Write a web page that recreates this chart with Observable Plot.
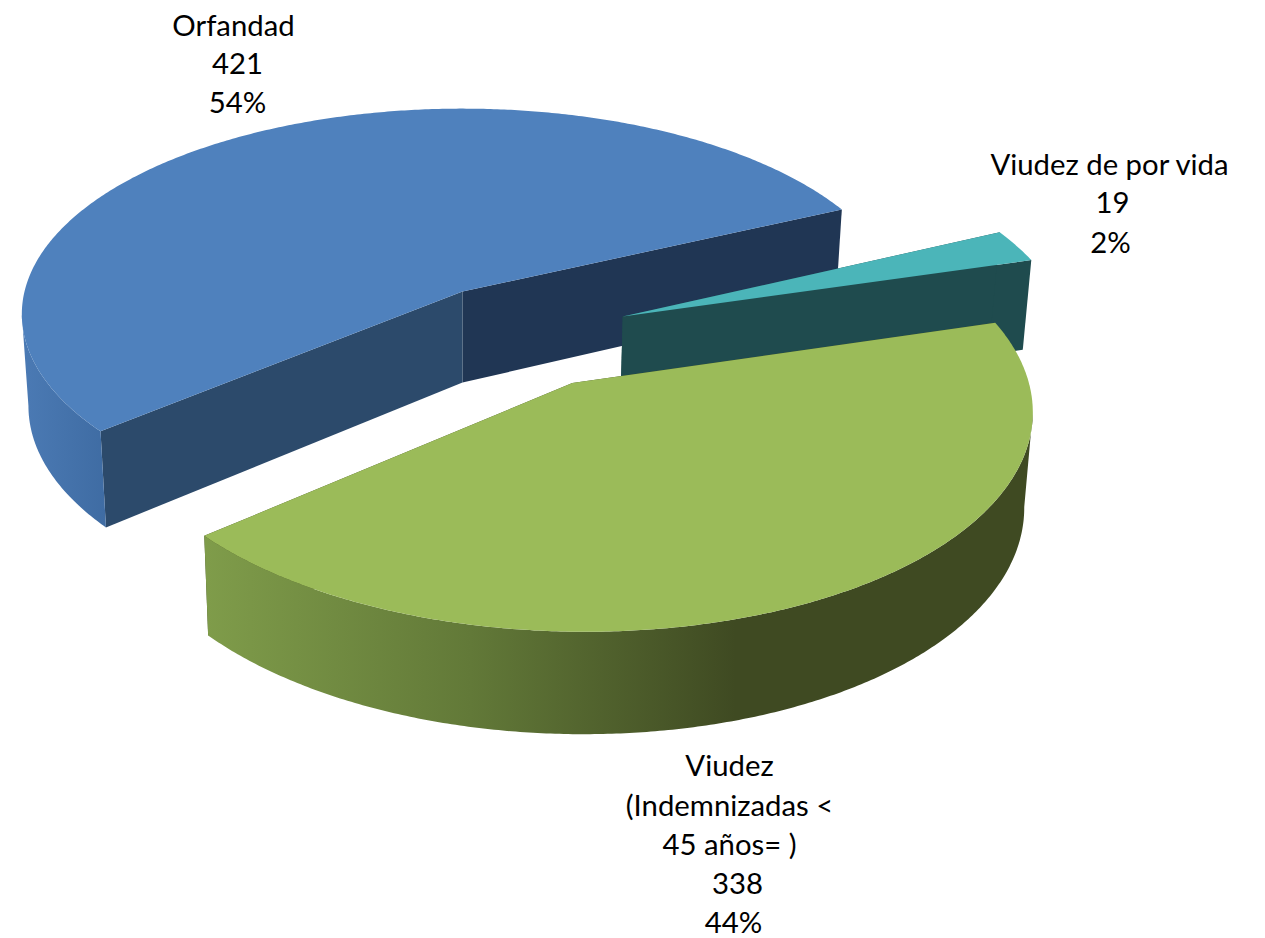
<!DOCTYPE html>
<html><head><meta charset="utf-8">
<style>html,body{margin:0;padding:0;background:#fff}svg{display:block}</style>
<script src="https://cdn.jsdelivr.net/npm/d3@7"></script>
<script src="https://cdn.jsdelivr.net/npm/@observablehq/plot@0.6"></script>
</head><body><div id="chart"></div>
<script>
// Data (in the pie's angular order)
const categories = ["Orfandad", "Viudez (Indemnizadas < 45 años= )", "Viudez de por vida"];
const values = [421, 338, 19];
const percents = ["54%", "44%", "2%"];
const labelLines = [
  [categories[0], String(values[0]), percents[0]],
  ["Viudez", "(Indemnizadas <", "45 años= )", String(values[1]), percents[1]],
  [categories[2], String(values[2]), percents[2]]
];

// View of the pie: perspective disc per slice, explosion offsets, styles
const W = 1265, H = 938;
const cx = 462, cy = 291;
const sliceR = [438, 437, 438], sliceS = [203, 204, 203], sliceK = [0.11, 0.1, 0.11];
const startAngle = 25;
const explode = [[0, 0], [0.2405, 0.4295], [0.3609, 0.1215]];
const topFill = ["#4F81BD", "#9BBB59", "#4BB5B9"];
const outerFill = ["url(#blueWall)", "url(#greenWall)", "#1F4B4E"];
const radialStartFill = ["#203654", "#3F4A22", "#1F4B4E"];
const radialEndFill = ["#2C4A6B", "#3F4A22", "#1F4B4E"];
const labelX = [[233, 237, 237], [729, 729, 729, 737, 733], [1109, 1112, 1110]];
const labelY = [[26, 64, 103], [766, 806, 845, 884, 923], [165, 203, 243]];
const drawOrder = [0, 2, 1]; // back to front

function project(i, u, v, lower) {
  const w = 1 - sliceK[i] * v;
  return {
    x: cx + (lower ? 0.985 : 1) * sliceR[i] * u / w,
    y: cy + sliceS[i] * v / w + (lower ? 91 + 8 * v : 0)
  };
}
function angles(a0, a1) {
  const n = Math.max(8, Math.ceil((a1 - a0) * 2));
  return d3.range(n + 1).map(j => a0 + (a1 - a0) * j / n);
}
function arc(i, degs, lower) {
  const [u0, v0] = explode[i];
  return degs.map(d => {
    const t = d * Math.PI / 180;
    return project(i, u0 + Math.cos(t), v0 - Math.sin(t), lower);
  });
}
const poly = (pts, fill) => Plot.line([...pts, pts[0]], {x: "x", y: "y", fill, stroke: "none", curve: "linear"});

const total = d3.sum(values);
let a = startAngle;
const built = values.map((val, i) => {
  const a0 = a, a1 = a + val / total * 360; a = a1;
  const [u0, v0] = explode[i];
  const degs = angles(a0, a1);
  const topArc = arc(i, degs, false), botArc = arc(i, degs, true);
  const apexT = project(i, u0, v0, false), apexB = project(i, u0, v0, true);
  const marks = [
    poly([apexT, topArc[0], botArc[0], apexB], radialStartFill[i]),
    poly([apexT, topArc[topArc.length - 1], botArc[botArc.length - 1], apexB], radialEndFill[i])
  ];
  // outer wall: only the part of the rim that faces the viewer, between its horizontal extremes
  const front = degs.filter(d => d >= 170 && d <= 370);
  if (front.length > 1) {
    const ft = arc(i, front, false);
    const lo = d3.least(d3.range(ft.length), j => ft[j].x);
    const hi = d3.greatest(d3.range(ft.length), j => ft[j].x);
    const part = front.slice(lo, hi + 1);
    marks.push(poly([...arc(i, part, false), ...arc(i, part, true).reverse()], outerFill[i]));
  }
  marks.push(poly([apexT, ...topArc], topFill[i]));
  return marks;
});
const sliceMarks = drawOrder.flatMap(i => built[i]);

const defs = () => {
  const d = d3.create("svg:defs");
  const grad = (id, x1, x2, stops) => {
    const g = d.append("linearGradient").attr("id", id).attr("gradientUnits", "userSpaceOnUse")
      .attr("x1", x1).attr("x2", x2).attr("y1", 0).attr("y2", 0);
    stops.forEach(([o, c]) => g.append("stop").attr("offset", o).attr("stop-color", c));
  };
  grad("blueWall", 22, 105, [[0, "#4B7AB4"], [1, "#3F6CA3"]]);
  grad("greenWall", 205, 735, [[0, "#7F9C4A"], [0.5, "#627938"], [1, "#3F4A22"]]);
  return d.node();
};

const labels = labelLines.flatMap((lines, i) =>
  lines.map((text, j) => ({text, x: labelX[i][j], y: labelY[i][j]})));

const chart = Plot.plot({
  width: W, height: H, margin: 0,
  style: {background: "#fff"},
  x: {domain: [0, W], range: [0, W], axis: null},
  y: {domain: [0, H], range: [0, H], axis: null},
  marks: [
    defs,
    ...sliceMarks,
    Plot.text(labels, {x: "x", y: "y", text: "text", fill: "#000", fontSize: 29.3, fontFamily: "Lato, 'Open Sans', sans-serif", textAnchor: "middle", lineAnchor: "middle"})
  ]
});
document.getElementById("chart").append(chart);
</script></body></html>
